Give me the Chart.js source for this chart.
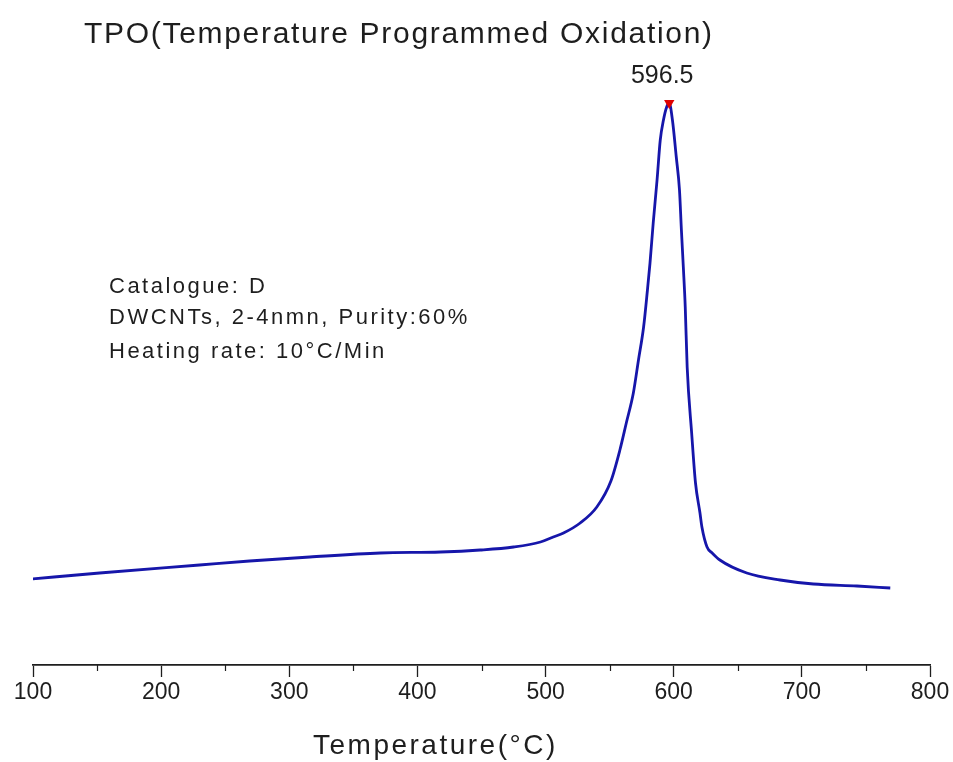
<!DOCTYPE html>
<html>
<head>
<meta charset="utf-8">
<script src="https://cdn.jsdelivr.net/npm/chart.js@4/dist/chart.umd.min.js"></script>
<style>
  html, body { margin: 0; padding: 0; background: #fff; }
  #wrap { width: 953px; height: 762px; position: relative; }
</style>
</head>
<body>
<div id="wrap"><canvas id="tpo"></canvas></div>
<script>
// TPO curve (signal in arbitrary units)
const temps = [98.5, 152, 230, 269, 316, 371, 418, 449, 475, 496, 506, 514, 527, 540, 551,
  558, 563, 568.5, 572.5, 576.5, 579.5, 581.5, 584, 587, 589.5, 592, 594.5, 596.5, 599, 602,
  604.5, 606, 607.5, 609, 610.5, 614, 617, 620.5, 622, 626, 630, 636, 657, 683, 709, 743, 769];
const signal = [8.3, 8.9, 9.7, 10.1, 10.5, 10.9, 11.0, 11.2, 11.5, 12.0, 12.5, 12.9, 13.9, 15.5, 18.1,
  21.2, 23.9, 26.9, 30.2, 33.5, 37.2, 39.9, 43.9, 48.2, 52.2, 54.2, 55.5, 55.9, 54.2, 50.5,
  47.2, 43.2, 39.5, 35.5, 29.5, 22.9, 17.9, 14.9, 13.5, 11.5, 10.9, 10.2, 8.9, 8.2, 7.8, 7.6, 7.4];

const peakT = [596.5];
const peakSignal = [55.9];

const xTicks = [100, 200, 300, 400, 500, 600, 700, 800];
const xMinorTicks = [150, 250, 350, 450, 550, 650, 750];

const titleText = 'TPO(Temperature Programmed Oxidation)';
const axisTitle = 'Temperature(\u00B0C)';
const notes = ['Catalogue: D', 'DWCNTs, 2-4nmn, Purity:60%', 'Heating rate: 10\u00B0C/Min'];

const FONT = "'Liberation Sans', Arial, sans-serif";
const INK = '#1e1e1e';

// minor ticks + free text (title, notes, peak label, axis title)
const decorations = {
    id: 'decorations',
    afterDraw(chart) {
        const ctx = chart.ctx;
        const x = chart.scales.x;
        const y = chart.scales.y;
        ctx.save();

        // minor ticks below the axis line
        ctx.strokeStyle = INK;
        ctx.lineWidth = 1.2;
        xMinorTicks.forEach(v => {
            const px = Math.round(x.getPixelForValue(v)) + 0.5;
            ctx.beginPath();
            ctx.moveTo(px, x.top);
            ctx.lineTo(px, x.top + 6);
            ctx.stroke();
        });

        ctx.fillStyle = INK;
        ctx.textBaseline = 'alphabetic';
        ctx.textAlign = 'left';

        ctx.font = '30px ' + FONT;
        ctx.letterSpacing = '1.7px';
        ctx.fillText(titleText, 84, 43);

        ctx.font = '22px ' + FONT;
        ctx.letterSpacing = '2.5px';
        const noteY = [293, 324, 358];
        notes.forEach((t, i) => ctx.fillText(t, 109, noteY[i]));

        ctx.font = '28px ' + FONT;
        ctx.letterSpacing = '2.5px';
        ctx.fillText(axisTitle, 313, 754);

        // peak label
        ctx.font = '25px ' + FONT;
        ctx.letterSpacing = '0px';
        ctx.textAlign = 'center';
        const px = x.getPixelForValue(peakT[0]);
        const py = y.getPixelForValue(peakSignal[0]);
        ctx.fillText(String(peakT[0]), px - 7, py - 20);

        ctx.restore();
    }
};

new Chart(document.getElementById('tpo'), {
    type: 'line',
    data: {
        datasets: [
            {
                label: 'peak',
                data: peakT.map((t, i) => ({ x: t, y: peakSignal[i] })),
                showLine: false,
                pointStyle: 'triangle',
                rotation: 180,
                pointRadius: 6,
                backgroundColor: '#e00000',
                borderColor: '#e00000',
                borderWidth: 0
            },
            {
                label: 'TPO',
                data: temps.map((t, i) => ({ x: t, y: signal[i] })),
                borderColor: '#1616aa',
                borderWidth: 2.8,
                pointRadius: 0,
                fill: false,
                cubicInterpolationMode: 'monotone'
            }
        ]
    },
    options: {
        responsive: true,
        maintainAspectRatio: false,
        animation: false,
        events: [],
        layout: { padding: { top: 62, left: 33, right: 23, bottom: 0 } },
        plugins: {
            legend: { display: false },
            tooltip: { enabled: false }
        },
        scales: {
            x: {
                type: 'linear',
                min: 100,
                max: 800,
                afterBuildTicks: (scale) => { scale.ticks = xTicks.map(v => ({ value: v })); },
                afterFit: (scale) => { scale.height = 97; },
                border: { display: true, color: INK, width: 1.8 },
                grid: { drawOnChartArea: false, drawTicks: true, tickLength: 12, color: INK, tickWidth: 1.3 },
                ticks: {
                    color: INK,
                    padding: 2,
                    maxRotation: 0,
                    font: { family: FONT, size: 23 }
                }
            },
            y: {
                display: false,
                min: -0.3,
                max: 60
            }
        }
    },
    plugins: [decorations]
});
</script>
</body>
</html>
